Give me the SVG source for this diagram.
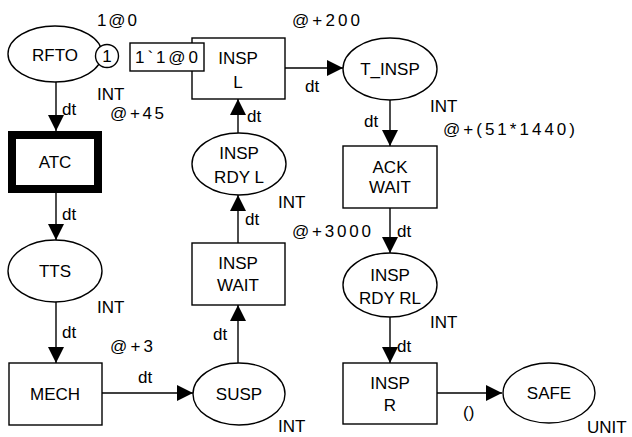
<svg xmlns="http://www.w3.org/2000/svg" width="632" height="437" viewBox="0 0 632 437">
<style>
text{font-family:"Liberation Sans",Arial,sans-serif;font-size:17px;fill:#000}
.c{text-anchor:middle}
.n{fill:#fff;stroke:#000;stroke-width:1.4}
.a{stroke:#000;stroke-width:1.4;fill:none;marker-end:url(#ah)}
</style>
<defs>
<marker id="ah" markerUnits="userSpaceOnUse" markerWidth="16" markerHeight="16" refX="16" refY="8" orient="auto">
<path d="M0,0 L16,8 L0,16 z" fill="#000"/>
</marker>
</defs>
<rect width="632" height="437" fill="#fff"/>
<g id="connectors">
<line class="a" x1="56" y1="82" x2="56" y2="131"/>
<line class="a" x1="56" y1="193" x2="56" y2="240"/>
<line class="a" x1="56" y1="302" x2="56" y2="363"/>
<line class="a" x1="102" y1="393" x2="193" y2="393"/>
<line class="a" x1="238" y1="363" x2="238" y2="305"/>
<line class="a" x1="238" y1="243" x2="238" y2="195"/>
<line class="a" x1="238" y1="133" x2="238" y2="99"/>
<line class="a" x1="285" y1="68" x2="343" y2="68"/>
<line class="a" x1="390" y1="100" x2="390" y2="146"/>
<line class="a" x1="390" y1="208" x2="390" y2="253"/>
<line class="a" x1="390" y1="317" x2="390" y2="363"/>
<line class="a" x1="437" y1="393" x2="502" y2="393"/>
<text x="62" y="115">dt</text>
<text x="62" y="220">dt</text>
<text x="62" y="338">dt</text>
<text x="138" y="383">dt</text>
<text x="213" y="340">dt</text>
<text x="245" y="225">dt</text>
<text x="247" y="122">dt</text>
<text x="305" y="92">dt</text>
<text x="364" y="127">dt</text>
<text x="397" y="237">dt</text>
<text x="397" y="352">dt</text>
<text x="463" y="418">()</text>
</g>
<g id="RFTO">
<ellipse class="n" cx="55" cy="54" rx="47" ry="28"/>
<text class="c" x="55" y="61">RFTO</text>
<circle class="n" cx="107" cy="56" r="11.5"/>
<text class="c" x="107" y="62">1</text>
<text x="97" y="26" textLength="40" lengthAdjust="spacing">1@0</text>
<text x="97" y="100">INT</text>
</g>
<g id="INSP_L">
<rect class="n" x="192" y="38" width="93" height="61"/>
<text class="c" x="238" y="64">INSP</text>
<text class="c" x="238" y="88">L</text>
<text x="292" y="26" textLength="68" lengthAdjust="spacing">@+200</text>
</g>
<g id="token">
<rect class="n" x="130" y="43" width="74" height="28"/>
<text x="135" y="63" textLength="63" lengthAdjust="spacing">1`1@0</text>
</g>
<g id="ATC">
<rect x="12" y="135" width="86" height="54" fill="#fff" stroke="#000" stroke-width="8"/>
<text class="c" x="55" y="168">ATC</text>
<text x="110" y="119" textLength="54" lengthAdjust="spacing">@+45</text>
</g>
<g id="TTS">
<ellipse class="n" cx="55" cy="271" rx="47" ry="31"/>
<text class="c" x="55" y="277">TTS</text>
<text x="97" y="313">INT</text>
</g>
<g id="MECH">
<rect class="n" x="9" y="363" width="93" height="62"/>
<text class="c" x="55" y="400">MECH</text>
<text x="110" y="352" textLength="43" lengthAdjust="spacing">@+3</text>
</g>
<g id="SUSP">
<ellipse class="n" cx="239" cy="394" rx="46" ry="31"/>
<text class="c" x="239" y="400">SUSP</text>
<text x="278" y="432">INT</text>
</g>
<g id="INSP_WAIT">
<rect class="n" x="192" y="243" width="93" height="62"/>
<text class="c" x="238" y="269">INSP</text>
<text class="c" x="238" y="291">WAIT</text>
<text x="292" y="237" textLength="79" lengthAdjust="spacing">@+3000</text>
</g>
<g id="INSP_RDY_L">
<ellipse class="n" cx="239" cy="164" rx="47" ry="31"/>
<text class="c" x="239" y="159">INSP</text>
<text class="c" x="239" y="183">RDY L</text>
<text x="278" y="208">INT</text>
</g>
<g id="T_INSP">
<ellipse class="n" cx="390" cy="69" rx="47" ry="31"/>
<text class="c" x="390" y="75">T_INSP</text>
<text x="430" y="112">INT</text>
</g>
<g id="ACK_WAIT">
<rect class="n" x="343" y="146" width="94" height="62"/>
<text class="c" x="390" y="173">ACK</text>
<text class="c" x="390" y="193">WAIT</text>
<text x="443" y="135" textLength="132" lengthAdjust="spacing">@+(51*1440)</text>
</g>
<g id="INSP_RDY_RL">
<ellipse class="n" cx="390" cy="285" rx="47" ry="32"/>
<text class="c" x="390" y="281">INSP</text>
<text class="c" x="390" y="304">RDY RL</text>
<text x="430" y="328">INT</text>
</g>
<g id="INSP_R">
<rect class="n" x="343" y="363" width="94" height="61"/>
<text class="c" x="390" y="389">INSP</text>
<text class="c" x="390" y="411">R</text>
</g>
<g id="SAFE">
<ellipse class="n" cx="549" cy="393" rx="46" ry="30"/>
<text class="c" x="549" y="399">SAFE</text>
<text x="587" y="433">UNIT</text>
</g>
</svg>
